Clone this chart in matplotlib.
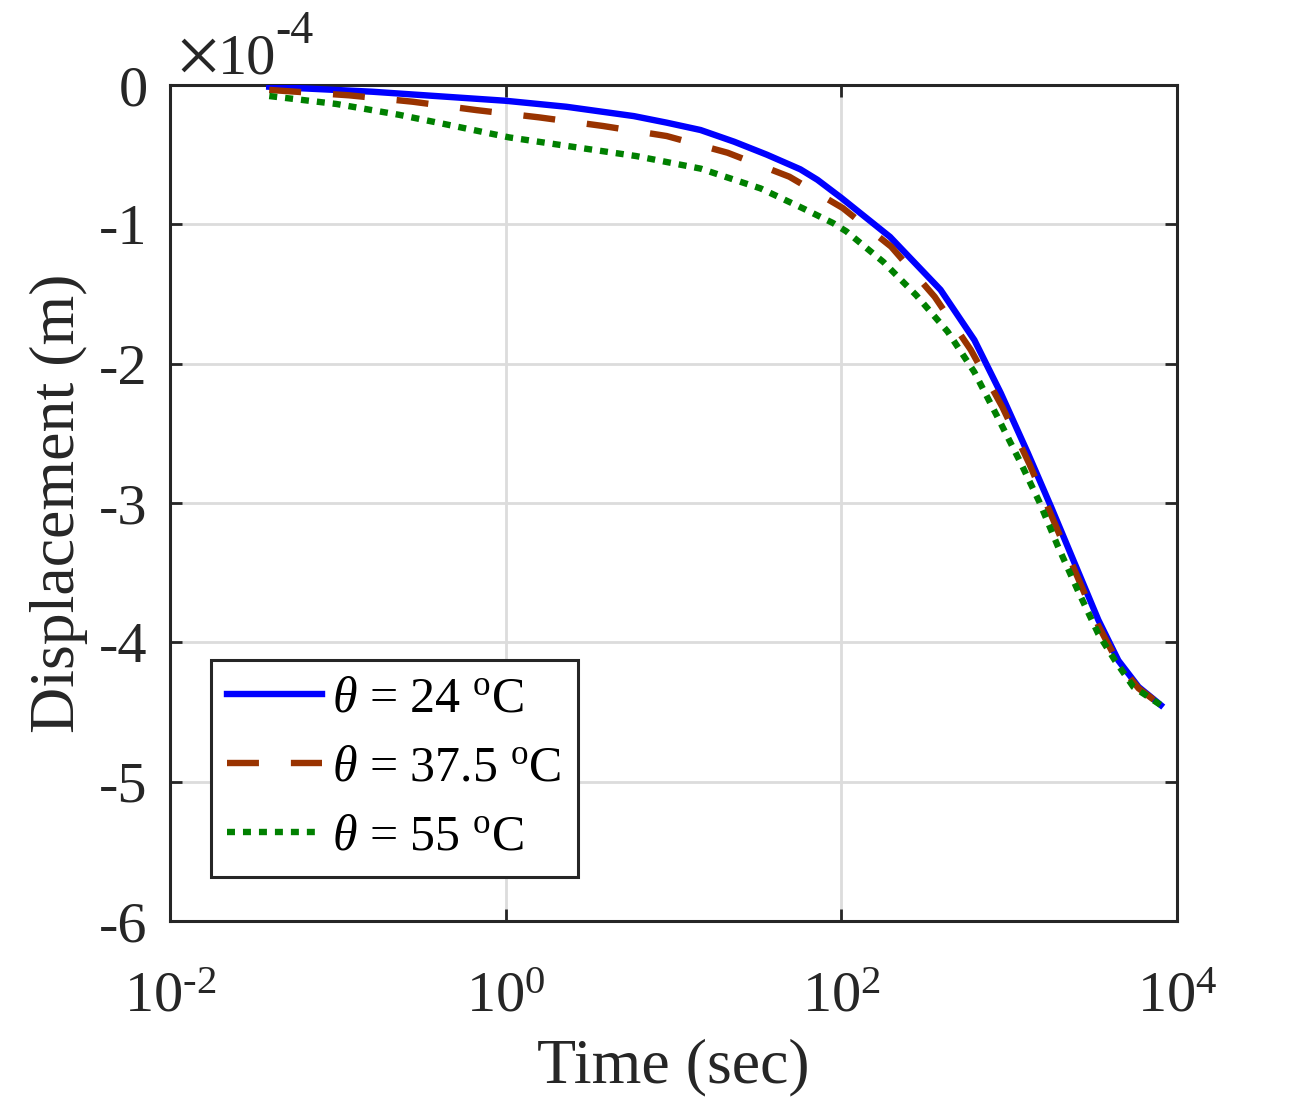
import matplotlib
matplotlib.use("Agg")
import matplotlib.pyplot as plt

plt.rcParams['font.family'] = ['Liberation Serif', 'DejaVu Serif']
plt.rcParams['mathtext.fontset'] = 'custom'
plt.rcParams['mathtext.rm'] = 'Liberation Serif'
plt.rcParams['mathtext.it'] = 'Liberation Serif:italic'
plt.rcParams['axes.unicode_minus'] = False

# Data (displacement in units of 1e-4 m)
time_24 = [0.039, 0.16, 1.0, 2.3, 5.8, 9.1, 14.5, 23, 36, 57, 72, 100, 195, 390, 620, 890, 1290,
           1780, 2450, 3400, 4470, 5900, 8000]
disp_24 = [-0.012, -0.048, -0.113, -0.156, -0.223, -0.27, -0.323, -0.407, -0.50, -0.605, -0.68,
           -0.81, -1.09, -1.47, -1.83, -2.21, -2.64, -3.03, -3.43, -3.84, -4.13, -4.32, -4.45]

time_375 = [0.039, 0.117, 0.28, 0.67, 1.58, 3.8, 9.1, 21, 49, 102, 198, 360, 590, 910, 1320,
            1800, 2450, 3400, 4470, 5900, 8000]
disp_375 = [-0.035, -0.074, -0.12, -0.18, -0.232, -0.294, -0.366, -0.486, -0.658, -0.883, -1.16,
            -1.52, -1.90, -2.31, -2.72, -3.10, -3.48, -3.88, -4.15, -4.33, -4.45]

time_55 = [0.039, 0.098, 0.23, 0.44, 1.05, 2.5, 6.0, 14.5, 33, 59, 89, 107, 178, 280, 430, 620,
           850, 1180, 1510, 1950, 2570, 3400, 4270, 5500, 8000]
disp_55 = [-0.079, -0.136, -0.213, -0.282, -0.376, -0.443, -0.51, -0.60, -0.742, -0.885, -0.99,
           -1.05, -1.27, -1.51, -1.77, -2.06, -2.38, -2.72, -2.99, -3.31, -3.63, -3.94, -4.13,
           -4.32, -4.45]

labels = [r'$\theta$ = 24 $^{\mathrm{o}}$C', r'$\theta$ = 37.5 $^{\mathrm{o}}$C',
          r'$\theta$ = 55 $^{\mathrm{o}}$C']
x_ticks = [1e-2, 1e0, 1e2, 1e4]
x_ticklabels = [r'10$^{\text{-2}}$', r'10$^{\text{0}}$', r'10$^{\text{2}}$', r'10$^{\text{4}}$']
y_ticks = [-6, -5, -4, -3, -2, -1, 0]
y_ticklabels = ['-6', '-5', '-4', '-3', '-2', '-1', '0']

fig = plt.figure(figsize=(13, 11), dpi=100)
ax = fig.add_axes([0.1308, 0.1627, 0.7746, 0.76])

lw = 4.6
ax.plot(time_24, disp_24, color='#0000FF', lw=lw, linestyle='-', solid_joinstyle='round',
        label=labels[0], zorder=3)
ax.plot(time_375, disp_375, color='#993300', lw=lw, linestyle=(0, (5.0, 5.0)),
        dash_capstyle='butt', dash_joinstyle='round', label=labels[1], zorder=4)
ax.plot(time_55, disp_55, color='#008000', lw=lw, linestyle=(0, (1.25, 1.25)),
        dash_capstyle='butt', dash_joinstyle='round', label=labels[2], zorder=5)

ax.set_xscale('log')
ax.set_xlim(1e-2, 1e4)
ax.set_ylim(-6, 0)
ax.set_xticks(x_ticks)
ax.set_xticklabels(x_ticklabels)
ax.minorticks_off()
ax.set_yticks(y_ticks)
ax.set_yticklabels(y_ticklabels)

ax.tick_params(axis='both', which='major', direction='in', length=8.6, width=2,
               labelsize=42, top=True, right=True, color='#262626', labelcolor='#262626')
ax.tick_params(axis='y', pad=16)
ax.tick_params(axis='x', pad=36)
for s in ax.spines.values():
    s.set_linewidth(2.2)
    s.set_color('#262626')
ax.grid(True, color='#dcdcdc', lw=2)
ax.set_axisbelow(True)

ax.set_xlabel('Time (sec)', fontsize=46, color='#262626', labelpad=11)
ax.set_ylabel('Displacement (m)', fontsize=46, color='#262626', labelpad=8)

# exponent label
W, H = 1300, 1100
fig.text(174 / W, 1 - 83 / H, '\u00d7', fontsize=60, color='#262626', ha='left', va='baseline')
fig.text(218 / W, 1 - 73 / H, '10', fontsize=42, color='#262626', ha='left', va='baseline')
fig.text(275 / W, 1 - 43 / H, '-4', fontsize=33, color='#262626', ha='left', va='baseline')

leg = ax.legend(loc='lower left', bbox_to_anchor=(0.041, 0.053), borderaxespad=0, fontsize=36,
                handlelength=1.9, handletextpad=0.2, labelspacing=0.45, borderpad=0.32,
                fancybox=False, framealpha=1, edgecolor='#262626')
leg.get_frame().set_linewidth(2.2)

fig.savefig('out.png', dpi=100)
